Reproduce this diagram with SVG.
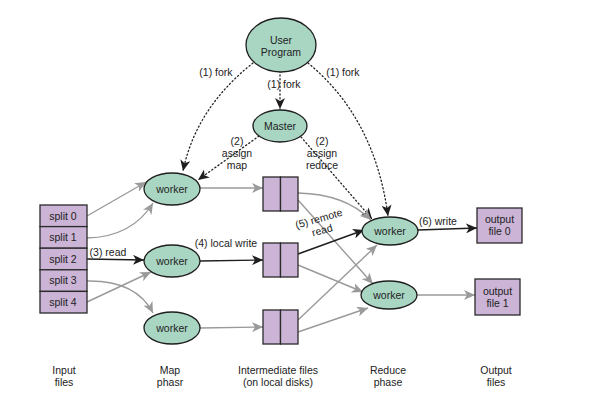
<svg xmlns="http://www.w3.org/2000/svg" width="600" height="400" viewBox="0 0 600 400">
<defs>
<style>
text{font-family:"Liberation Sans","Noto Sans",sans-serif;font-size:10.5px;fill:#222;text-anchor:middle}
.node ellipse{fill:#a9d6c3;stroke:#1e1e1e;stroke-width:1.3}
.box{fill:#cbb4d6;stroke:#2a2a2a;stroke-width:1.3}
.blk{fill:none;stroke:#1e1e1e;stroke-width:1.4;marker-end:url(#ab)}
.gry{fill:none;stroke:#9a9a9a;stroke-width:1.4;marker-end:url(#ag)}
.dot{fill:none;stroke:#222;stroke-width:1.3;stroke-dasharray:1.2 2.6;stroke-linecap:round;marker-end:url(#ab)}
</style>
<marker id="ab" markerUnits="userSpaceOnUse" markerWidth="12" markerHeight="10" refX="11" refY="5" orient="auto"><path d="M0,0 L11,5 L0,10 L3,5 z" fill="#1e1e1e"/></marker>
<marker id="ag" markerUnits="userSpaceOnUse" markerWidth="12" markerHeight="10" refX="11" refY="5" orient="auto"><path d="M0,0 L11,5 L0,10 L3,5 z" fill="#9a9a9a"/></marker>
</defs>
<rect width="600" height="400" fill="#fff"/>
<g id="connectors">
<path class="dot" d="M280,71 L280,109"/>
<path class="dot" d="M253,63 Q196,108 183,171"/>
<path class="dot" d="M308,63 Q375,118 388,216"/>
<path class="dot" d="M259,136 L198,180"/>
<path class="dot" d="M301,137 L372,219"/>
<path class="gry" d="M87,216 L146,182"/>
<path class="gry" d="M87,238 Q132,237 153,203"/>
<path class="blk" d="M87,259 L144,260"/>
<path class="gry" d="M87,281 Q136,280 153,313"/>
<path class="gry" d="M87,302 L151,272"/>
<path class="gry" d="M200,188 L263,188"/>
<path class="blk" d="M200,261 L263,260"/>
<path class="gry" d="M200,328 L263,327"/>
<path class="gry" d="M298,193 Q345,194 371,220"/>
<path class="gry" d="M298,200 L373,284"/>
<path class="blk" d="M298,254 L364,230"/>
<path class="gry" d="M298,265 L363,292"/>
<path class="gry" d="M298,320 L377,245"/>
<path class="gry" d="M298,332 L368,308"/>
<path class="blk" d="M418,230 L477,228"/>
<path class="gry" d="M417,295 L475,295"/>
</g>
<g id="labels">
<text x="216" y="76">(1) fork</text>
<text x="343" y="76">(1) fork</text>
<text x="284" y="88">(1) fork</text>
<text x="237" y="145">(2)</text>
<text x="237" y="157">assign</text>
<text x="237" y="169">map</text>
<text x="322" y="145">(2)</text>
<text x="322" y="157">assign</text>
<text x="322" y="169">reduce</text>
<text x="108" y="256">(3) read</text>
<text x="226" y="247">(4) local write</text>
<g transform="rotate(-16 321 226)"><text x="321" y="222">(5) remote</text><text x="321" y="234">read</text></g>
<text x="438" y="225">(6) write</text>
<text x="64" y="374">Input</text><text x="64" y="386">files</text>
<text x="170" y="374">Map</text><text x="170" y="386">phasr</text>
<text x="278" y="374">Intermediate files</text><text x="278" y="386">(on local disks)</text>
<text x="388" y="374">Reduce</text><text x="388" y="386">phase</text>
<text x="496" y="374">Output</text><text x="496" y="386">files</text>
</g>
<g id="user-program" class="node"><ellipse cx="281" cy="45" rx="35" ry="27"/><text x="281" y="44">User</text><text x="281" y="56">Program</text></g>
<g id="master" class="node"><ellipse cx="280" cy="126" rx="27" ry="16"/><text x="280" y="130">Master</text></g>
<g id="map-worker-0" class="node"><ellipse cx="172" cy="189" rx="28" ry="16"/><text x="172" y="193">worker</text></g>
<g id="map-worker-1" class="node"><ellipse cx="172" cy="261" rx="28" ry="16"/><text x="172" y="265">worker</text></g>
<g id="map-worker-2" class="node"><ellipse cx="172" cy="328" rx="28" ry="16"/><text x="172" y="332">worker</text></g>
<g id="reduce-worker-0" class="node"><ellipse cx="390" cy="231" rx="28" ry="14"/><text x="390" y="235">worker</text></g>
<g id="reduce-worker-1" class="node"><ellipse cx="389" cy="295" rx="28" ry="14"/><text x="389" y="299">worker</text></g>
<g id="input-files">
<rect class="box" x="40" y="205" width="47" height="21.6"/><text x="63" y="219.5">split 0</text>
<rect class="box" x="40" y="226.6" width="47" height="21.6"/><text x="63" y="241">split 1</text>
<rect class="box" x="40" y="248.2" width="47" height="21.6"/><text x="63" y="262.6">split 2</text>
<rect class="box" x="40" y="269.8" width="47" height="21.6"/><text x="63" y="284.2">split 3</text>
<rect class="box" x="40" y="291.4" width="47" height="21.6"/><text x="63" y="305.8">split 4</text>
</g>
<g id="intermediate-0"><rect class="box" x="263" y="177" width="17.5" height="34"/><rect class="box" x="280.5" y="177" width="17.5" height="34"/></g>
<g id="intermediate-1"><rect class="box" x="263" y="243" width="17.5" height="34"/><rect class="box" x="280.5" y="243" width="17.5" height="34"/></g>
<g id="intermediate-2"><rect class="box" x="263" y="310" width="17.5" height="34"/><rect class="box" x="280.5" y="310" width="17.5" height="34"/></g>
<g id="output-file-0"><rect class="box" x="477" y="208" width="45" height="35"/><text x="499.5" y="223">output</text><text x="499.5" y="235">file 0</text></g>
<g id="output-file-1"><rect class="box" x="475" y="279" width="45" height="36"/><text x="497.5" y="295">output</text><text x="497.5" y="307">file 1</text></g>
</svg>
